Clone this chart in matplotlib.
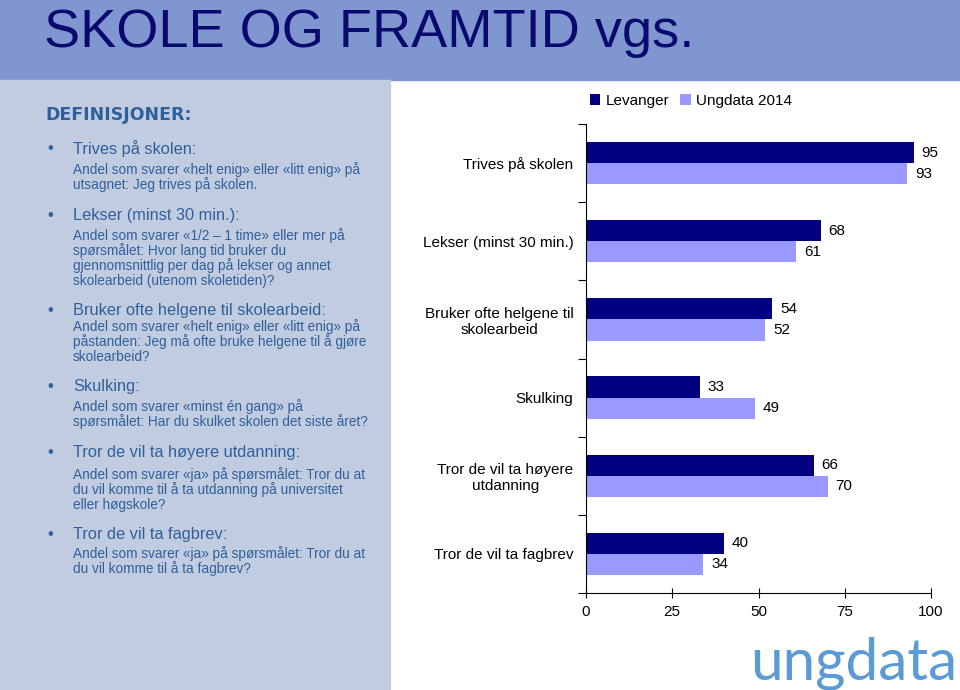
import matplotlib
matplotlib.use("Agg")
import matplotlib.pyplot as plt
from matplotlib.patches import Rectangle
import numpy as np

categories = ["Trives på skolen", "Lekser (minst 30 min.)",
              "Bruker ofte helgene til\nskolearbeid", "Skulking",
              "Tror de vil ta høyere\nutdanning", "Tror de vil ta fagbrev"]
levanger = [95, 68, 54, 33, 66, 40]
ungdata = [93, 61, 52, 49, 70, 34]
series_names = ["Levanger", "Ungdata 2014"]
xticks = [0, 25, 50, 75, 100]

definitions = [
    ("Trives på skolen:",
     ["Andel som svarer «helt enig» eller «litt enig» på",
      "utsagnet: Jeg trives på skolen."]),
    ("Lekser (minst 30 min.):",
     ["Andel som svarer «1/2 – 1 time» eller mer på",
      "spørsmålet: Hvor lang tid bruker du",
      "gjennomsnittlig per dag på lekser og annet",
      "skolearbeid (utenom skoletiden)?"]),
    ("Bruker ofte helgene til skolearbeid:",
     ["Andel som svarer «helt enig» eller «litt enig» på",
      "påstanden: Jeg må ofte bruke helgene til å gjøre",
      "skolearbeid?"]),
    ("Skulking:",
     ["Andel som svarer «minst én gang» på",
      "spørsmålet: Har du skulket skolen det siste året?"]),
    ("Tror de vil ta høyere utdanning:",
     ["Andel som svarer «ja» på spørsmålet: Tror du at",
      "du vil komme til å ta utdanning på universitet",
      "eller høgskole?"]),
    ("Tror de vil ta fagbrev:",
     ["Andel som svarer «ja» på spørsmålet: Tror du at",
      "du vil komme til å ta fagbrev?"]),
]
head_y = [149, 215, 311, 387, 453, 535]
sub_start = [170, 236, 327, 407, 475, 554]

W, H = 960, 690
def fy(y):
    return 1 - y / H
def fx(x):
    return x / W

plt.rcParams["font.family"] = ["Liberation Sans", "DejaVu Sans"]

fig = plt.figure(figsize=(9.6, 6.9), dpi=100)
fig.patches.append(Rectangle((0, fy(80)), 1, 80 / H, transform=fig.transFigure,
                             color="#7F96D0", zorder=0))
fig.patches.append(Rectangle((0, 0), fx(390), fy(80), transform=fig.transFigure,
                             color="#C2CCE0", zorder=0))

fig.text(fx(44), fy(47), "SKOLE OG FRAMTID vgs.", fontsize=39, color="#0A0A6E",
         va="baseline", ha="left")

txt_col = "#2F609C"
fig.text(fx(45), fy(115), "DEFINISJONER:", fontsize=12.5, fontweight="bold",
         color=txt_col, va="center", family="DejaVu Sans")
for i, (head, lines) in enumerate(definitions):
    fig.text(fx(47), fy(head_y[i]), "•", fontsize=12, color=txt_col, va="center")
    fig.text(fx(73), fy(head_y[i]), head, fontsize=11.8, color=txt_col, va="center")
    for j, line in enumerate(lines):
        fig.text(fx(73), fy(sub_start[i] + j * 15), line, fontsize=9.8,
                 color=txt_col, va="center")

# chart
ax = fig.add_axes([fx(586), fy(593), 345 / W, (593 - 124) / H])
y = np.arange(len(categories))
h = 0.27
dark, light = "#000080", "#9999FF"
b1 = ax.barh(y - h / 2, levanger, height=h, color=dark, label=series_names[0])
b2 = ax.barh(y + h / 2, ungdata, height=h, color=light, label=series_names[1])
for yy, v in zip(y, levanger):
    ax.text(v + 2.3, yy - h / 2, str(v), va="center", ha="left", fontsize=11)
for yy, v in zip(y, ungdata):
    ax.text(v + 2.3, yy + h / 2, str(v), va="center", ha="left", fontsize=11)

ax.set_xlim(0, 100)
ax.set_ylim(len(categories) - 0.5, -0.5)
ax.set_xticks(xticks)
ax.set_xticklabels([str(t) for t in xticks], fontsize=11)
ax.tick_params(axis="x", direction="inout", length=7, pad=5)
ax.set_yticks(np.arange(-0.5, len(categories), 1))
ax.set_yticklabels([])
ax.tick_params(axis="y", which="major", direction="out", length=6)
ax.set_yticks(y, minor=True)
ax.set_yticklabels(categories, minor=True, fontsize=11, multialignment="center")
ax.tick_params(axis="y", which="minor", length=0, pad=9)
for s in ["top", "right"]:
    ax.spines[s].set_visible(False)

fig.legend(handles=[b1, b2], loc="center left", bbox_to_anchor=(fx(582), fy(101)),
           ncol=2, frameon=False, fontsize=11, handlelength=0.7, handleheight=0.7,
           handletextpad=0.35, columnspacing=0.7, borderpad=0)

fig.text(fx(957), fy(679), "ungdata", fontsize=42, color="#5B9BD5",
         va="baseline", ha="right", family="Lato")

fig.savefig("out.png", dpi=100)
